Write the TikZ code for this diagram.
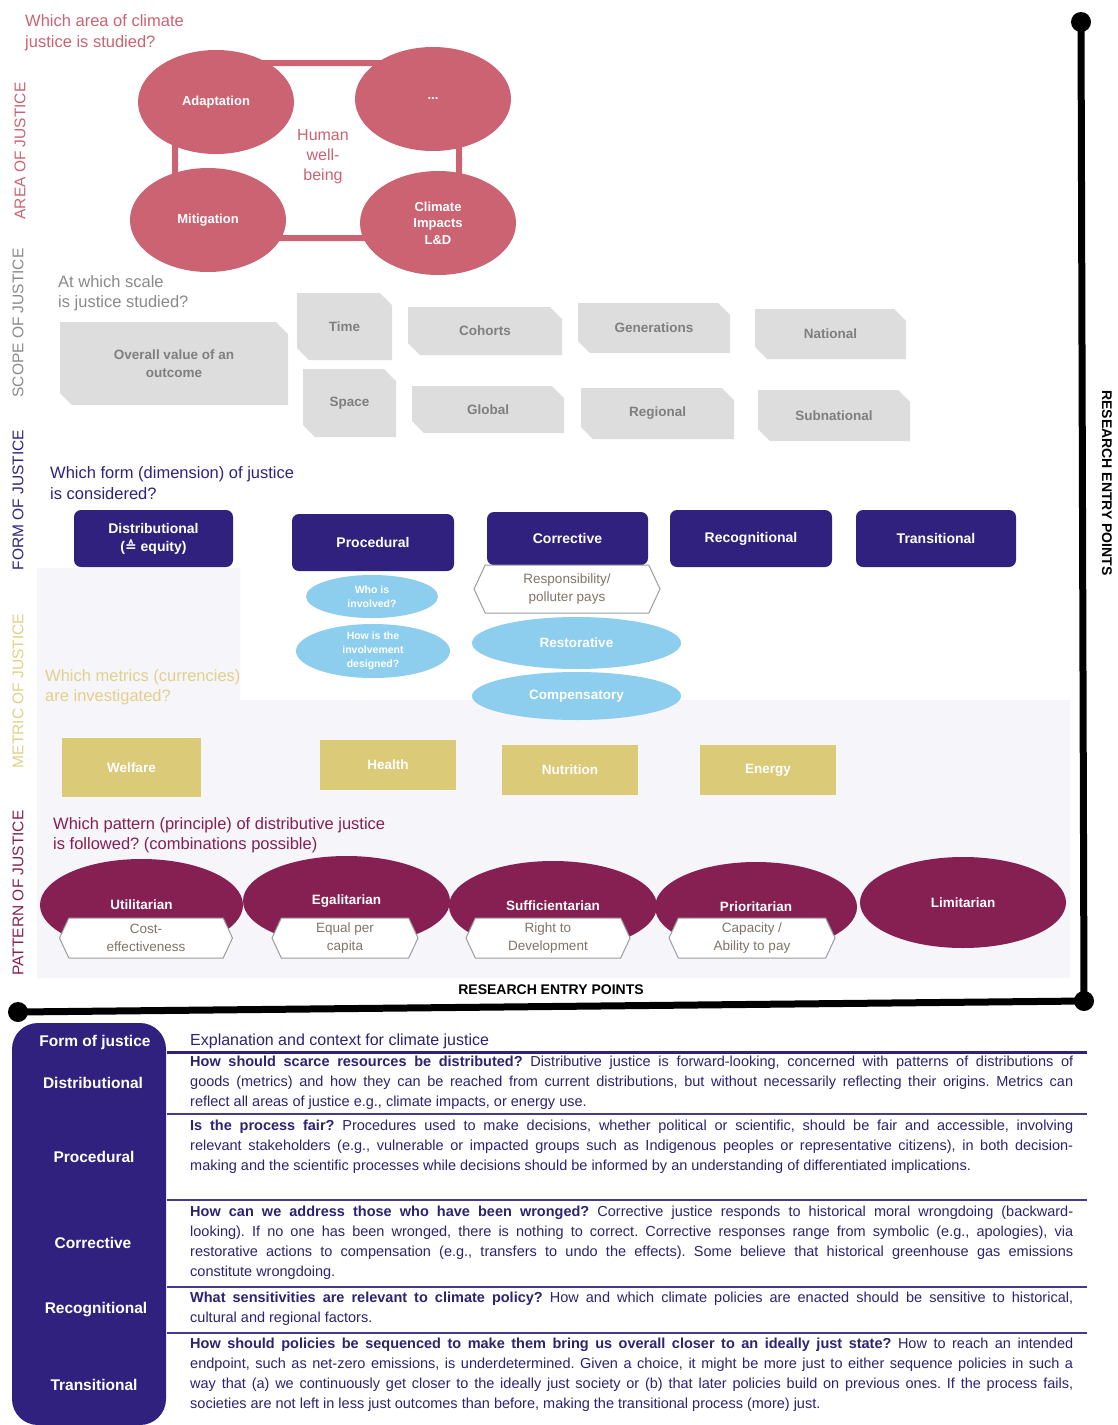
\documentclass[tikz,border=0pt]{standalone}
\usepackage{fontspec}
\setmainfont{Liberation Sans}
\newfontfamily\dejavu{DejaVu Sans}
\usetikzlibrary{shapes.geometric,shapes.symbols}
\frenchspacing

\definecolor{jnavy}{HTML}{31217F}
\definecolor{jpink}{HTML}{CB6372}
\definecolor{jsky}{HTML}{8DCDEE}
\definecolor{jgold}{HTML}{DBCA78}
\definecolor{jgoldhead}{HTML}{E2D08A}
\definecolor{jmaroon}{HTML}{861F52}
\definecolor{jgrey}{HTML}{DDDDDD}
\definecolor{jgreytext}{HTML}{7F7F7F}
\definecolor{jgreyhead}{HTML}{8A8A8A}
\definecolor{jpanel}{HTML}{F5F5FA}
\definecolor{jhexline}{HTML}{9C9C9C}
\definecolor{jhextext}{HTML}{807468}
\definecolor{jtabtext}{HTML}{2C2372}
\definecolor{jtabline}{HTML}{463A8E}

\begin{document}
\begin{tikzpicture}[
    x=1pt, y=-1pt,
    every node/.style={inner sep=0pt, align=center},
    sidelabel/.style={rotate=90, font=\fontsize{15.5}{16}\selectfont},
    question/.style={anchor=west, align=left, font=\fontsize{16.5}{20.5}\selectfont},
    areablob/.style={ellipse, fill=jpink, text=white,
      font=\bfseries\fontsize{13}{16.5}\selectfont, minimum width=156, minimum height=104},
    % 右上と左下の角を 12pt 落とした箱
    scopebox/.style={rectangle, fill=white, text=jgreytext,
      font=\bfseries\fontsize{13.5}{18}\selectfont,
      path picture={\fill[jgrey] (path picture bounding box.north west)
        -- ([xshift=-12pt]path picture bounding box.north east)
        -- ([yshift=-12pt]path picture bounding box.north east)
        -- (path picture bounding box.south east)
        -- ([xshift=12pt]path picture bounding box.south west)
        -- ([yshift=12pt]path picture bounding box.south west) -- cycle;}},
    formbox/.style={rectangle, rounded corners=7pt, fill=jnavy, text=white,
      font=\bfseries\fontsize{14}{18}\selectfont, minimum width=160, minimum height=57},
    bubble/.style={ellipse, fill=jsky, text=white, font=\bfseries\fontsize{13.5}{16}\selectfont},
    hexbox/.style={signal, signal to=west and east, signal pointer angle=130, draw=jhexline,
      line width=1pt, fill=white, text=jhextext, font=\fontsize{13.5}{18}\selectfont},
    metricbox/.style={rectangle, fill=jgold, text=white, font=\bfseries\fontsize{13.5}{16}\selectfont,
      minimum width=136, minimum height=50},
    patternblob/.style={ellipse, fill=jmaroon, text=white, font=\bfseries\fontsize{13.5}{16}\selectfont,
      minimum height=90},
    axis/.style={line width=7pt, black},
    tablehead/.style={text=white, font=\bfseries\fontsize{15.5}{18}\selectfont},
    tablerow/.style={anchor=base west, text width=883pt, align=justify, text=jtabtext,
      font=\fontsize{14.5}{20.3}\selectfont},
    rowline/.style={jtabline, line width=1.6pt}
  ]

  % --- 1. 背景 ---
  \useasboundingbox (0,0) rectangle (1117,1425);
  \fill[white] (0,0) rectangle (1117,1425);
  % metric / pattern の淡い背景
  \fill[jpanel] (37,568) -- (240,568) -- (240,700) -- (1070,700) -- (1070,978) -- (37,978) -- cycle;

  % --- 2. 左側の縦書き見出し ---
  \node[sidelabel, text=jpink] (lblArea) at (20,151) {AREA OF JUSTICE};
  \node[sidelabel, text=jgreyhead] (lblScope) at (18,323) {SCOPE OF JUSTICE};
  \node[sidelabel, text=jnavy] (lblForm) at (18,500) {FORM OF JUSTICE};
  \node[sidelabel, text=jgoldhead] (lblMetric) at (18,691) {METRIC OF JUSTICE};
  \node[sidelabel, text=jmaroon] (lblPattern) at (18,893) {PATTERN OF JUSTICE};

  % --- 3. Area: 4 つの楕円と輪 ---
  \node[question, text=jpink] (qArea) at (25,32.5) {Which area of climate\\justice is studied?};
  \draw[jpink, line width=6pt, rounded corners=60pt] (175,63) rectangle (459,238);
  \node[areablob] (adapt) at (216,102) {Adaptation};
  \node[areablob] (etc) at (433,99) {...};
  \node[areablob] (mitig) at (208,220) {Mitigation};
  \node[areablob] (impacts) at (438,223) {Climate\\Impacts\\L\&D};
  \node[text=jpink, font=\fontsize{16}{20}\selectfont] (wellbeing) at (323,157) {Human\\well-\\being};

  % --- 4. Scope: 角を落とした灰色の箱 ---
  \node[question, text=jgreyhead] (qScope) at (58,293) {At which scale\\is justice studied?};
  \node[scopebox, minimum width=228, minimum height=83] (overall) at (174,363.5) {Overall value of an\\outcome};
  \node[scopebox, minimum width=95, minimum height=67] (time) at (344.5,326.5) {Time};
  \node[scopebox, minimum width=93, minimum height=68] (space) at (349.5,403) {Space};
  \node[scopebox, minimum width=154, minimum height=48] (cohorts) at (485,331) {Cohorts};
  \node[scopebox, minimum width=152, minimum height=47] (global) at (488,409.5) {Global};
  \node[scopebox, minimum width=152, minimum height=50] (generations) at (654,328) {Generations};
  \node[scopebox, minimum width=153, minimum height=51] (regional) at (657.5,413.5) {Regional};
  \node[scopebox, minimum width=151, minimum height=50] (national) at (830.5,334) {National};
  \node[scopebox, minimum width=152, minimum height=51] (subnational) at (834,415.5) {Subnational};

  % --- 5. Form: 正義の 5 つの形 ---
  \node[question, text=jnavy] (qForm) at (50,483) {Which form (dimension) of justice\\is considered?};
  \node[formbox, minimum width=159] (distr) at (153.5,538.5) {Distributional\\({\dejavu ≙} equity)};
  \node[formbox, minimum width=162] (proc) at (373,542.5) {Procedural};
  \node[formbox, minimum width=161, minimum height=53] (corr) at (567.5,538.5) {Corrective};
  \node[formbox, minimum width=162] (recog) at (751,538.5) {Recognitional};
  \node[formbox, minimum width=160] (trans) at (936,538.5) {Transitional};

  % 手続き・是正の下位項目
  \node[bubble, minimum width=132, minimum height=43, font=\bfseries\fontsize{10.5}{14}\selectfont]
    (who) at (372,596.5) {Who is\\involved?};
  \node[bubble, minimum width=154, minimum height=54, font=\bfseries\fontsize{10.5}{14}\selectfont]
    (how) at (373,651) {How is the\\involvement\\designed?};
  \node[hexbox, minimum width=186, minimum height=48] (resp) at (567,589) {Responsibility/\\polluter pays};
  \node[bubble, minimum width=209, minimum height=52] (restor) at (576.5,643) {Restorative};
  \node[bubble, minimum width=209, minimum height=48] (compen) at (576.5,696) {Compensatory};

  % --- 6. Metric ---
  \node[question, text=jgoldhead] (qMetric) at (45,687) {Which metrics (currencies)\\are investigated?};
  \node[metricbox, minimum width=139, minimum height=59] (welfare) at (131.5,767.5) {Welfare};
  \node[metricbox] (health) at (388,765) {Health};
  \node[metricbox] (nutrition) at (570,770) {Nutrition};
  \node[metricbox] (energy) at (768,770) {Energy};

  % --- 7. Pattern: 分配の原理 ---
  \node[question, text=jmaroon] (qPattern) at (53,835) {Which pattern (principle) of distributive justice\\is followed? (combinations possible)};
  \node[patternblob, minimum width=203, minimum height=92] (util) at (141.5,905) {Utilitarian};
  \node[patternblob, minimum width=207] (egal) at (346.5,901) {Egalitarian};
  \node[patternblob, minimum width=208] (suff) at (553,906) {Sufficientarian};
  \node[patternblob, minimum width=202] (prio) at (756,907) {Prioritarian};
  \node[patternblob, minimum width=206, minimum height=91] (limit) at (963,902.5) {Limitarian};

  \node[hexbox, minimum width=173, minimum height=40] (costeff) at (146,938) {Cost-\\effectiveness};
  \node[hexbox, minimum width=146, minimum height=40] (percap) at (345,938) {Equal per\\capita};
  \node[hexbox, minimum width=164, minimum height=40] (rightdev) at (548,938) {Right to\\Development};
  \node[hexbox, minimum width=166, minimum height=40] (ability) at (752,938) {Capacity /\\Ability to pay};

  % --- 8. 軸 (research entry points) ---
  \coordinate (axTop) at (1081,22);
  \coordinate (axCorner) at (1084,1001);
  \coordinate (axLeft) at (18,1012);
  \draw[axis] (axTop) -- (axCorner) -- (axLeft);
  \foreach \p in {axTop, axCorner, axLeft}
    \fill (\p) circle (10pt);
  \node[font=\bfseries\fontsize{14}{16}\selectfont] (entryBottom) at (551,990) {RESEARCH ENTRY POINTS};
  \node[rotate=-90, font=\bfseries\fontsize{14}{16}\selectfont] (entryRight) at (1107,483) {RESEARCH ENTRY POINTS};

  % --- 9. 説明の表 ---
  \fill[jnavy, rounded corners=26pt] (12,1023) rectangle (166,1425);
  \node[tablehead] (thForm) at (95,1042) {Form of justice};
  \node[tablehead] (thDistr) at (93,1083) {Distributional};
  \node[tablehead] (thProc) at (94,1157) {Procedural};
  \node[tablehead] (thCorr) at (93,1243) {Corrective};
  \node[tablehead] (thRecog) at (96,1310) {Recognitional};
  \node[tablehead] (thTrans) at (94,1385) {Transitional};

  \draw[jnavy, line width=3pt] (167,1052) -- (1087,1052);
  \foreach \y in {1114,1200,1287,1333}
    \draw[rowline] (167,\y) -- (1087,\y);

  \node[anchor=base west, text=jtabtext, font=\fontsize{16}{18}\selectfont] (thExpl) at (190,1045)
    {Explanation and context for climate justice};

  \node[tablerow] (rowDistr) at (190,1066)
    {\textbf{How should scarce resources be distributed?} Distributive justice is forward-looking, concerned with patterns of distributions of\linebreak
     goods (metrics) and how they can be reached from current distributions, but without necessarily reflecting their origins. Metrics can\linebreak
     reflect all areas of justice e.g., climate impacts, or energy use.};
  \node[tablerow] (rowProc) at (190,1130)
    {\textbf{Is the process fair?} Procedures used to make decisions, whether political or scientific, should be fair and accessible, involving\linebreak
     relevant stakeholders (e.g., vulnerable or impacted groups such as Indigenous peoples or representative citizens), in both decision-\linebreak
     making and the scientific processes while decisions should be informed by an understanding of differentiated implications.};
  \node[tablerow] (rowCorr) at (190,1216)
    {\textbf{How can we address those who have been wronged?} Corrective justice responds to historical moral wrongdoing (backward-\linebreak
     looking). If no one has been wronged, there is nothing to correct. Corrective responses range from symbolic (e.g., apologies), via\linebreak
     restorative actions to compensation (e.g., transfers to undo the effects). Some believe that historical greenhouse gas emissions\linebreak
     constitute wrongdoing.};
  \node[tablerow] (rowRecog) at (190,1302)
    {\textbf{What sensitivities are relevant to climate policy?} How and which climate policies are enacted should be sensitive to historical,\linebreak
     cultural and regional factors.};
  \node[tablerow] (rowTrans) at (190,1348)
    {\textbf{How should policies be sequenced to make them bring us overall closer to an ideally just state?} How to reach an intended\linebreak
     endpoint, such as net-zero emissions, is underdetermined. Given a choice, it might be more just to either sequence policies in such a\linebreak
     way that (a) we continuously get closer to the ideally just society or (b) that later policies build on previous ones. If the process fails,\linebreak
     societies are not left in less just outcomes than before, making the transitional process (more) just.};

\end{tikzpicture}
\end{document}
